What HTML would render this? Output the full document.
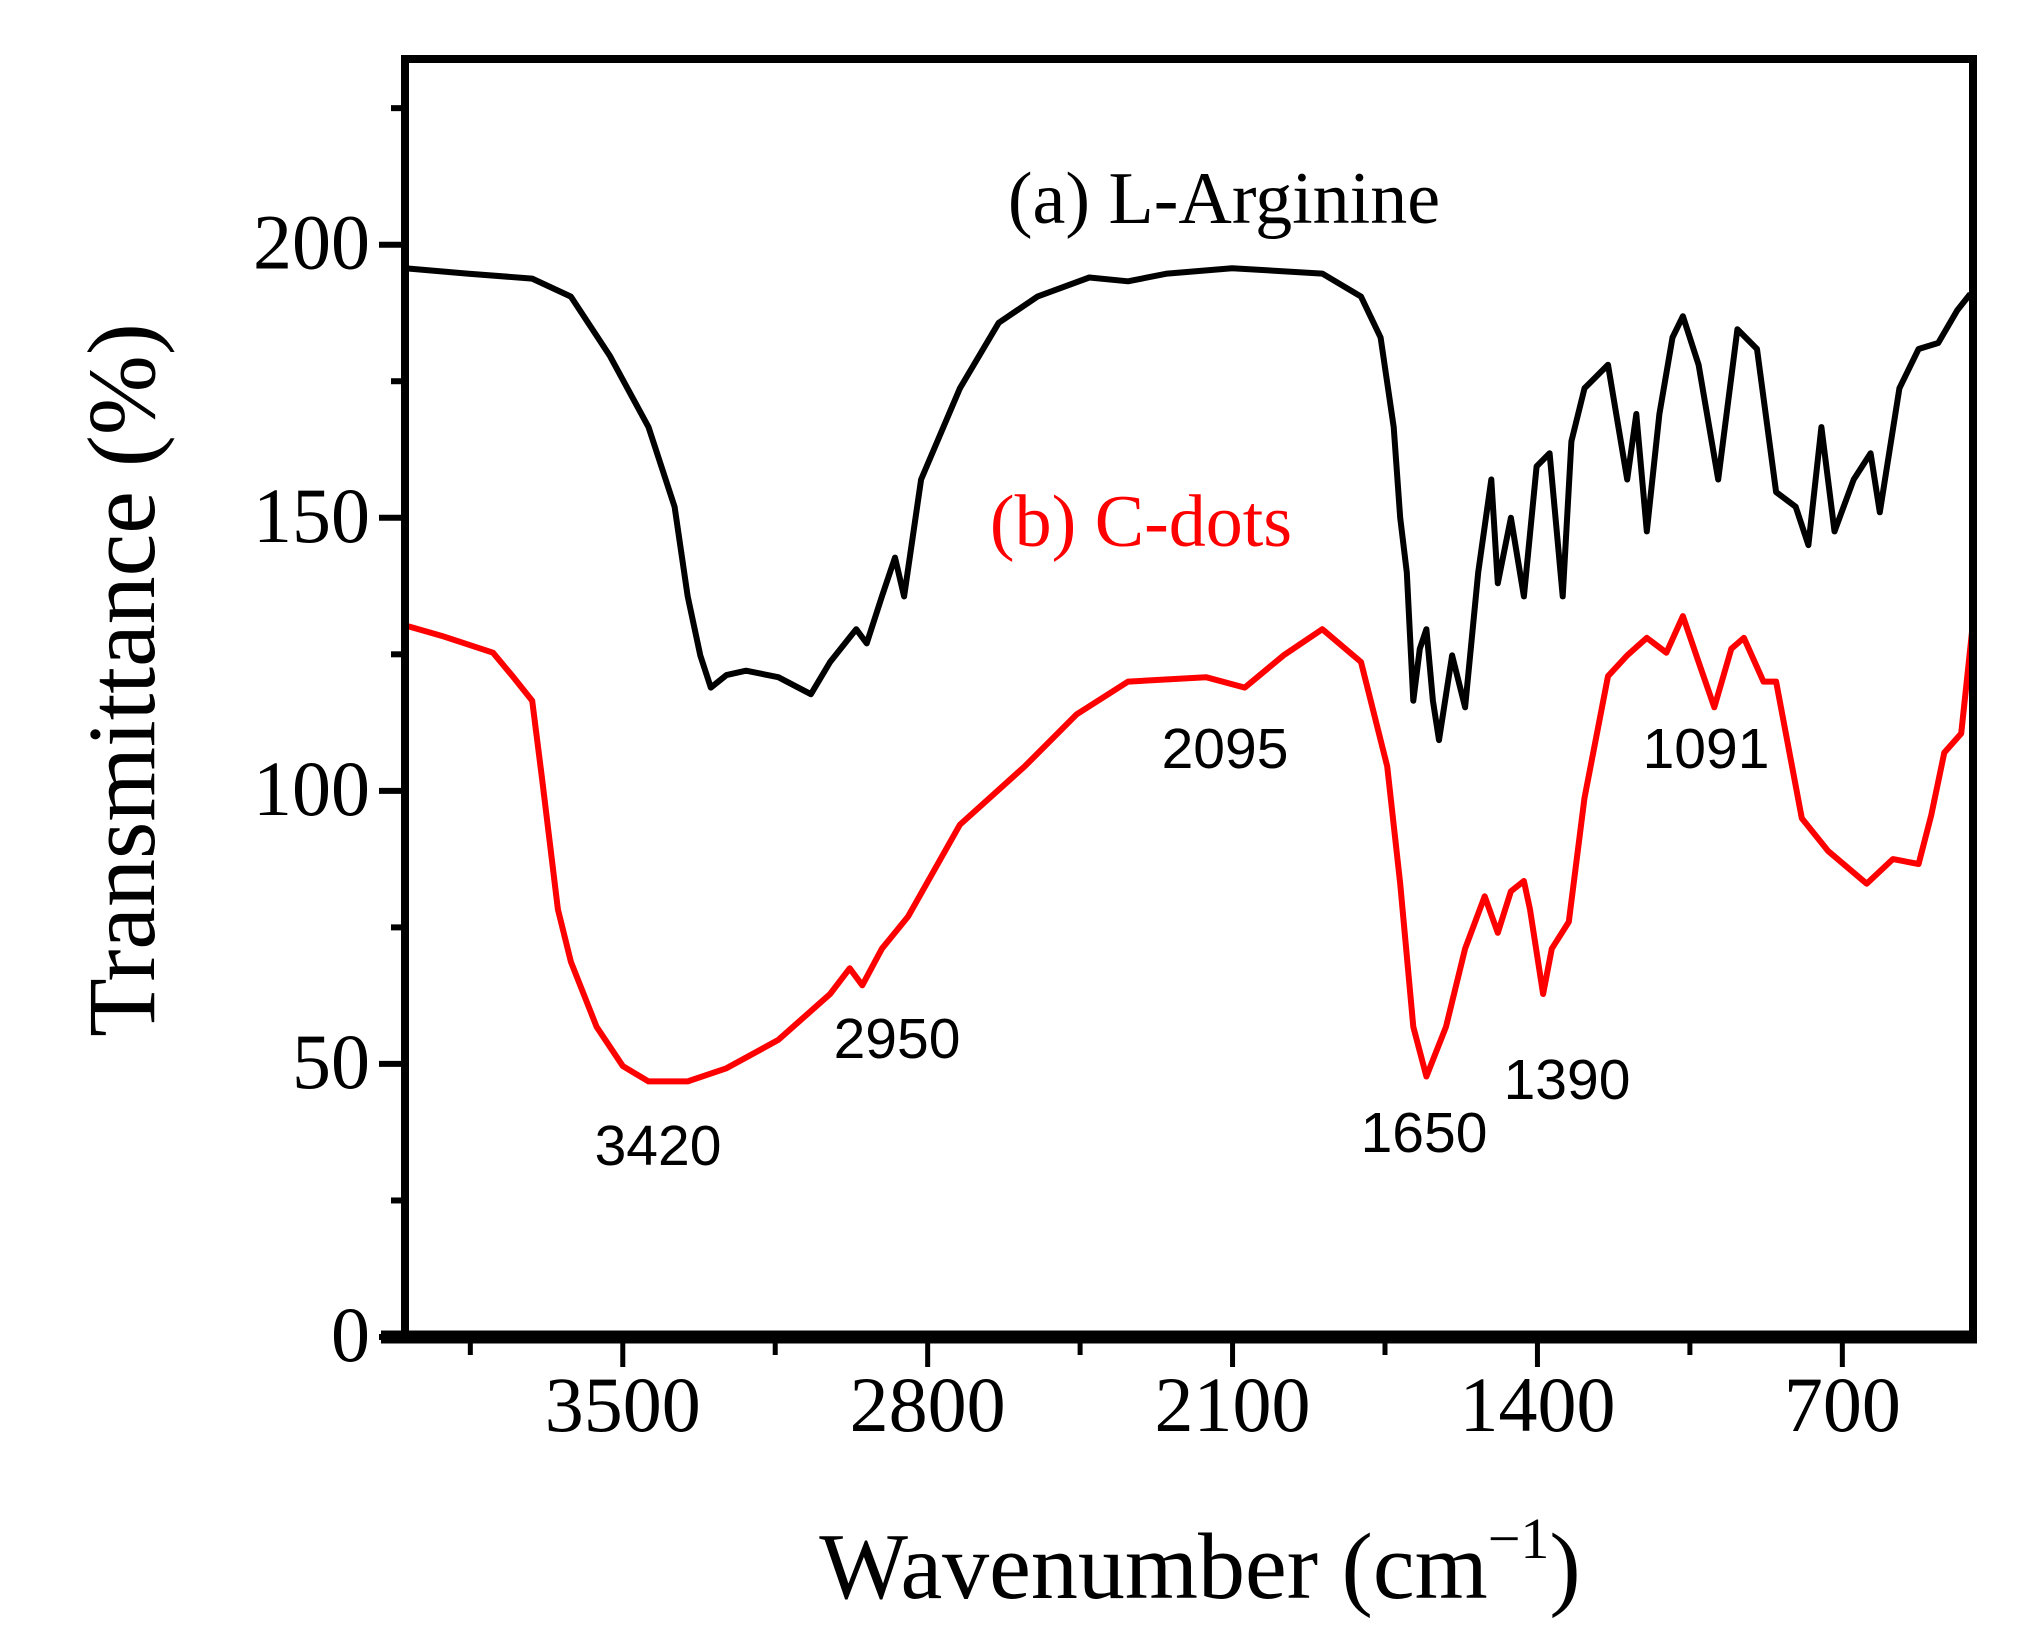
<!DOCTYPE html>
<html><head><meta charset="utf-8"><style>
body{margin:0;background:#fff}
svg{display:block}
.tk{font-family:"Liberation Serif",serif;font-size:78px;fill:#000}
</style></head><body>
<svg id="chart" width="2033" height="1647" viewBox="0 0 2033 1647" xmlns="http://www.w3.org/2000/svg">
<g id="plot"></g>
<text x="1224" y="223" text-anchor="middle" font-family="Liberation Serif, serif" font-size="74">(a) L-Arginine</text>
<text x="1141" y="546" text-anchor="middle" font-family="Liberation Serif, serif" font-size="74" fill="#ff0000">(b) C-dots</text>
<text x="658" y="1165" text-anchor="middle" font-family="Liberation Sans, sans-serif" font-size="57">3420</text>
<text x="897" y="1058" text-anchor="middle" font-family="Liberation Sans, sans-serif" font-size="57">2950</text>
<text x="1225" y="768" text-anchor="middle" font-family="Liberation Sans, sans-serif" font-size="57">2095</text>
<text x="1424" y="1152" text-anchor="middle" font-family="Liberation Sans, sans-serif" font-size="57">1650</text>
<text x="1567" y="1099" text-anchor="middle" font-family="Liberation Sans, sans-serif" font-size="57">1390</text>
<text x="1706" y="768" text-anchor="middle" font-family="Liberation Sans, sans-serif" font-size="57">1091</text>
<text transform="translate(154,680) rotate(-90)" text-anchor="middle" font-family="Liberation Serif, serif" font-size="96">Transmittance (%)</text>
<text x="1200" y="1598" text-anchor="middle" font-family="Liberation Serif, serif" font-size="94">Wavenumber (cm<tspan dy="-40" font-size="58">−1</tspan><tspan dy="40">)</tspan></text>
</svg>
<script>
const xTicks=[3500,2800,2100,1400,700];
const xMinor=[3850,3150,2450,1750,1050];
const yTicks=[0,50,100,150,200];
const yMinor=[25,75,125,175,225];
const waveA=[4000,3857,3708,3619,3530,3441,3381,3351,3322,3298,3262,3217,3143,3068,3024,2964,2940,2905,2875,2854,2815,2726,2637,2548,2429,2340,2250,2101,1894,1805,1760,1730,1715,1700,1685,1670,1655,1640,1626,1596,1566,1536,1506,1491,1461,1431,1402,1372,1342,1322,1292,1238,1194,1173,1149,1120,1090,1066,1030,985,941,896,852,807,778,748,718,674,635,614,569,525,480,436,406];
const valA=[195.7,194.7,193.8,190.5,179.7,166.6,152,135.6,124.8,118.9,121.2,122,120.8,117.7,123.6,129.6,127,135.6,142.7,135.6,157,173.7,185.7,190.5,194,193.3,194.7,195.7,194.7,190.5,183,166.6,150,140,116.5,126,129.6,116.5,109.3,124.8,115.3,140,157,138,150,135.6,159.4,161.8,135.6,164,173.7,178,157,169,147.5,169,183,186.9,178,157,184.5,180.9,154.7,152,145,166.6,147.5,157,161.8,151,173.7,180.9,182,188,191];
const waveB=[4000,3917,3798,3753,3708,3685,3649,3619,3560,3500,3441,3351,3262,3143,3024,2979,2950,2905,2845,2726,2577,2458,2340,2161,2072,1983,1894,1805,1745,1715,1685,1655,1610,1566,1521,1491,1461,1431,1417,1387,1367,1328,1292,1238,1194,1149,1104,1066,1030,994,955,926,881,852,793,733,644,584,525,496,466,427,400];
const valB=[130.3,128.4,125.3,121,116.5,102,78.3,68.7,56.8,49.6,46.8,46.8,49.2,54.4,62.8,67.5,64.4,71.1,77,93.8,104.5,114,120,120.8,118.9,124.8,129.6,123.6,104.5,83,56.8,47.7,56.8,71.1,80.7,74,81.6,83.5,78.3,62.8,71.1,76,98.7,121,124.8,128,125.3,132,123.6,115.3,126,128,120,120,95,89,83,87.5,86.6,95.5,107,110.5,130.8];
const L=405,R=1973,T=59,B=1337,X0=4000,X1=400,Y0=0,Y1=234;
const sx=v=>L+(X0-v)/(X0-X1)*(R-L);
const sy=v=>B-(v-Y0)/(Y1-Y0)*(B-T);
const NS="http://www.w3.org/2000/svg";
const g=document.getElementById('plot');
function mk(t,a){const e=document.createElementNS(NS,t);for(const k in a)e.setAttribute(k,a[k]);g.appendChild(e);return e;}
function line(pts,color,name){
  const d=pts.map((p,i)=>(i?'L':'M')+sx(p[0]).toFixed(1)+' '+sy(p[1]).toFixed(1)).join(' ');
  const e=mk('path',{d:d,fill:'none',stroke:color,'stroke-width':6,'stroke-linejoin':'round'});
  
  
}
line(waveA.map((w,i)=>[w,valA[i]]),'#000','series-l-arginine');
line(waveB.map((w,i)=>[w,valB[i]]),'#ff0000','series-c-dots');
const fr=mk('rect',{x:L,y:T,width:R-L,height:B-T,fill:'none',stroke:'#000','stroke-width':8});


const xa=mk('line',{x1:L-24,x2:R+4,y1:B,y2:B,stroke:'#000','stroke-width':13});


xTicks.forEach(v=>{
  const t=mk('line',{x1:sx(v),x2:sx(v),y1:B,y2:B+30,stroke:'#000','stroke-width':5});
  
  
  const s=mk('text',{x:sx(v),y:1431,'text-anchor':'middle','class':'tk'});
  s.textContent=v;
  
  
});
xMinor.forEach(v=>{
  const t=mk('line',{x1:sx(v),x2:sx(v),y1:B,y2:B+18,stroke:'#000','stroke-width':5});
  
  
});
yTicks.forEach(v=>{
  const t=mk('line',{x1:L-26,x2:L,y1:sy(v),y2:sy(v),stroke:'#000','stroke-width':6});
  
  
  const s=mk('text',{x:370,y:sy(v)+24,'text-anchor':'end','class':'tk'});
  s.textContent=v;
  
  
});
yMinor.forEach(v=>{
  const t=mk('line',{x1:L-14,x2:L,y1:sy(v),y2:sy(v),stroke:'#000','stroke-width':6});
  
  
});
</script>
</body></html>
